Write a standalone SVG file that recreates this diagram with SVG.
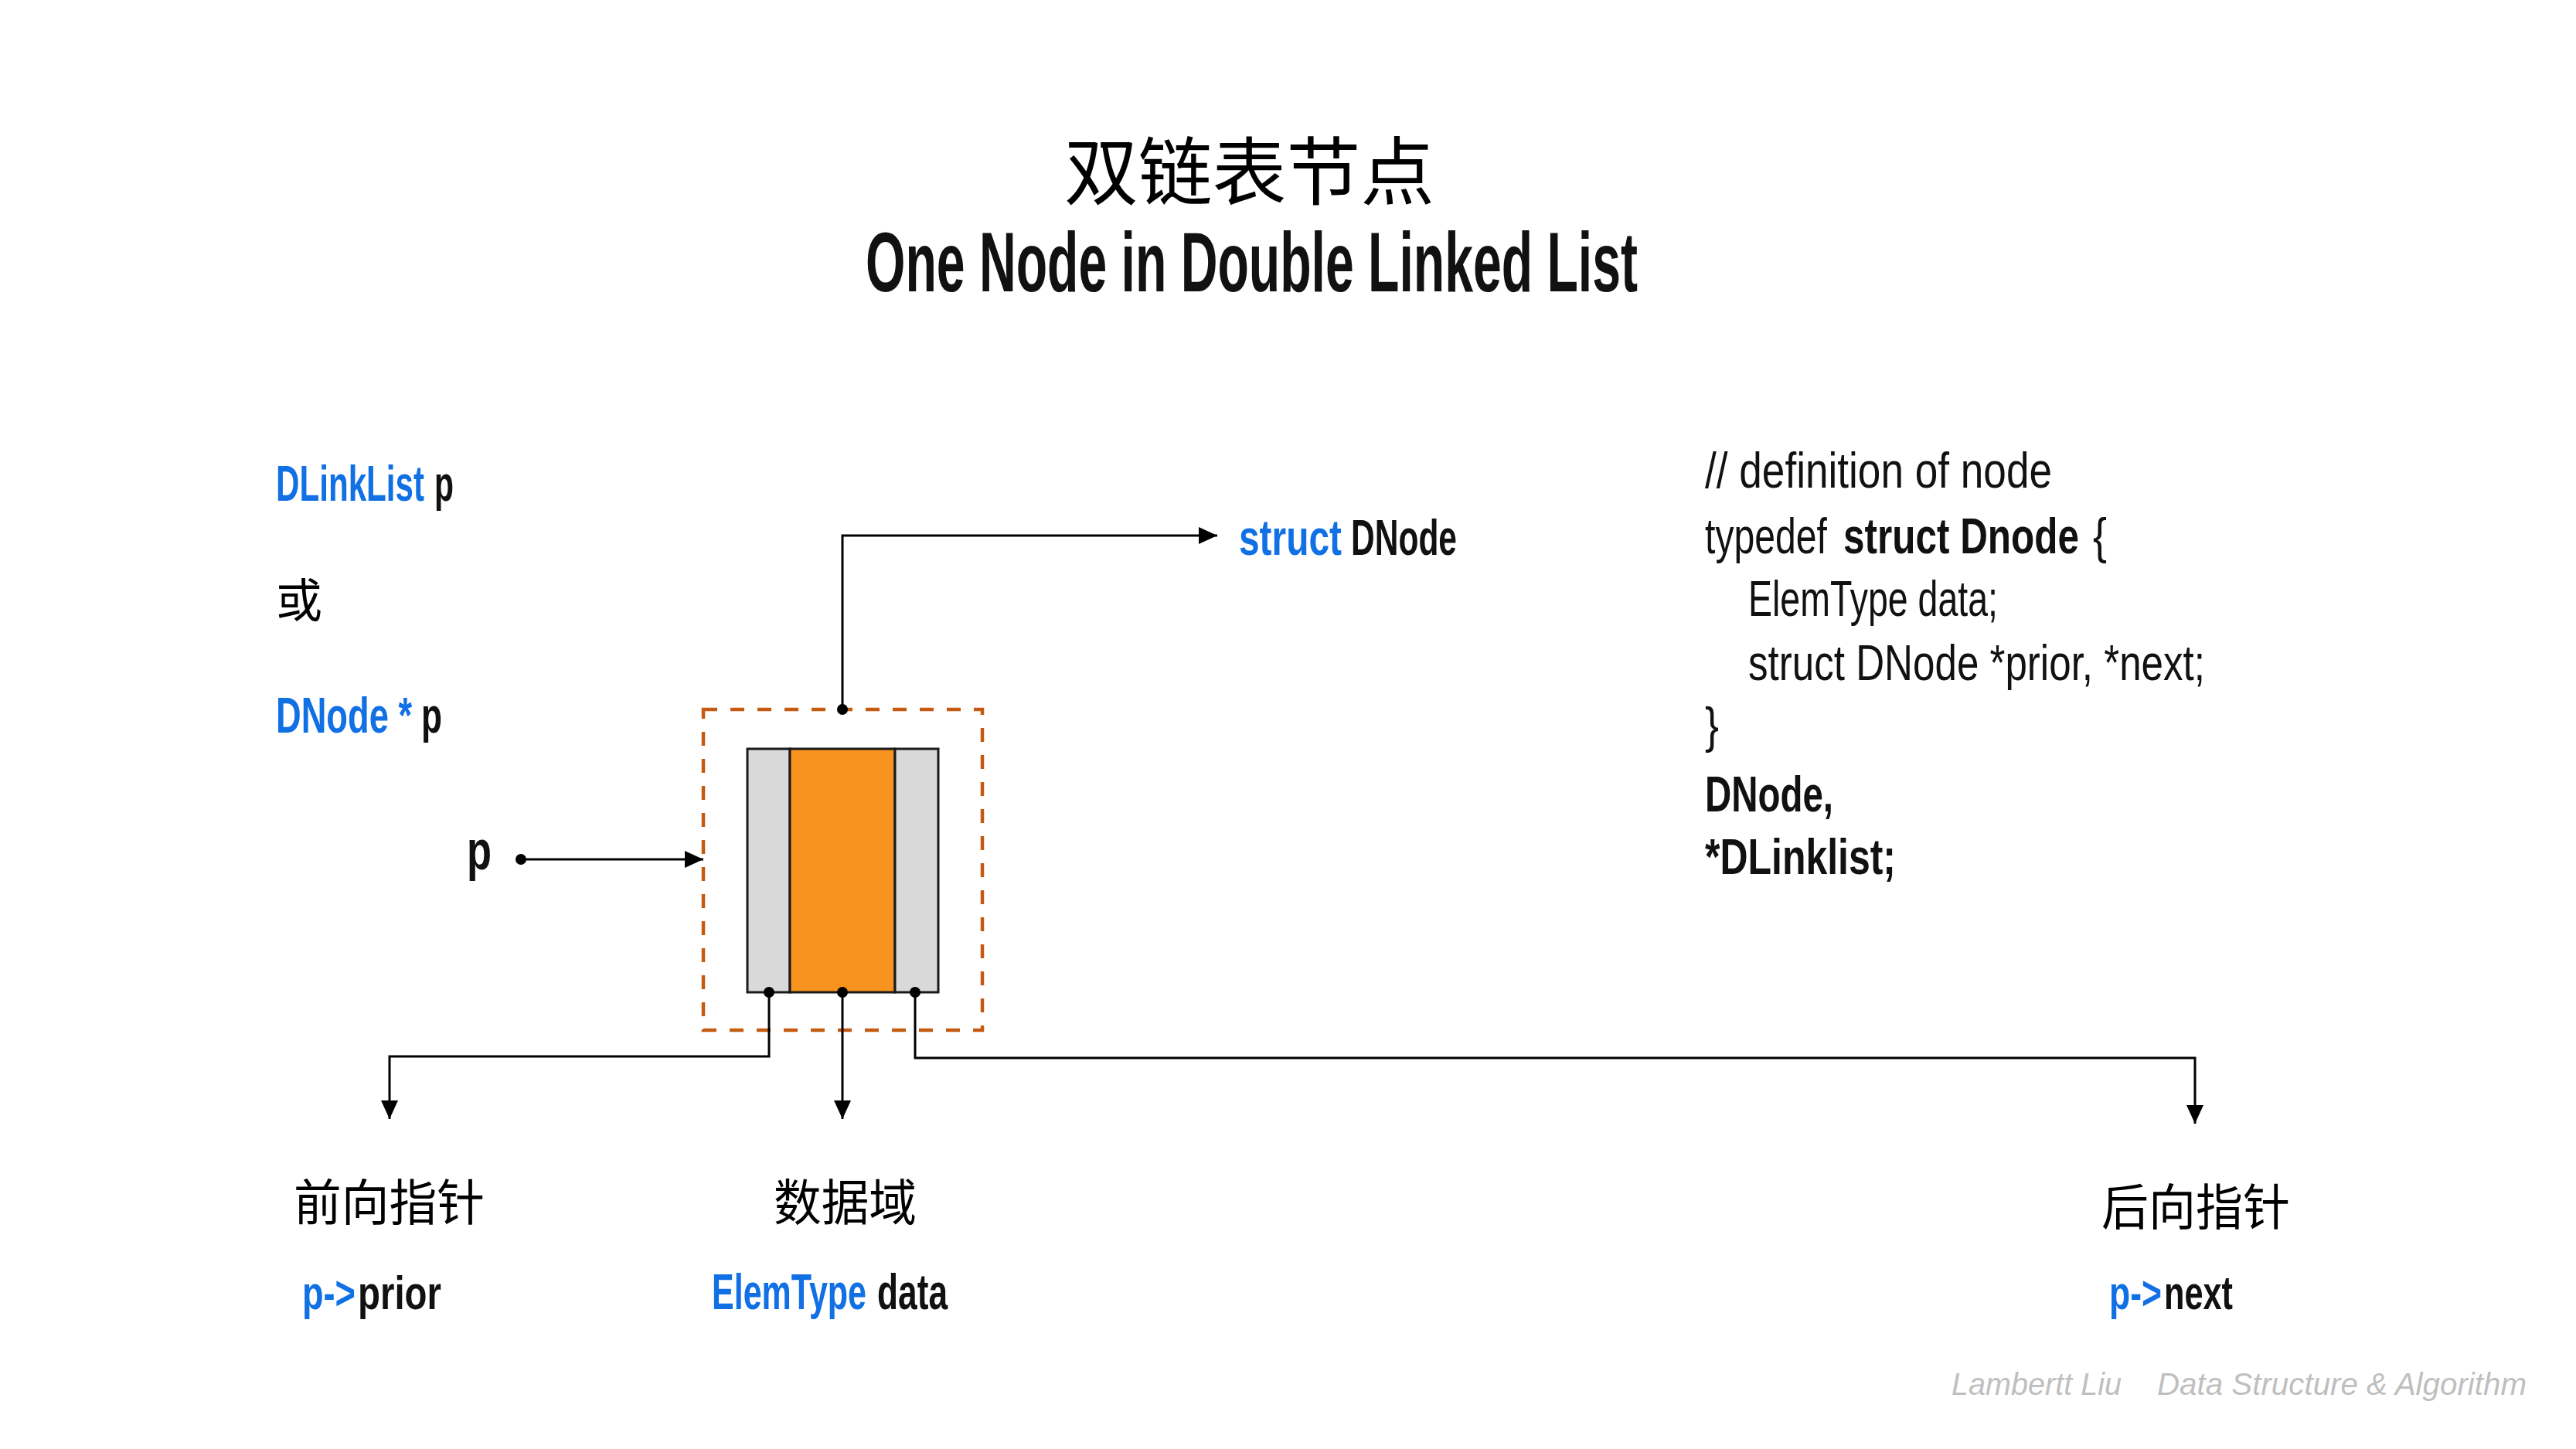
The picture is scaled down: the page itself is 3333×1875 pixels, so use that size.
<svg xmlns="http://www.w3.org/2000/svg" width="3333" height="1875" viewBox="0 0 3333 1875">
<defs>
<style>
.lat{font-family:"Liberation Sans","DejaVu Sans",Arial,sans-serif;}
.cjk{font-family:"Noto Sans CJK SC","Noto Sans CJK TC",sans-serif;fill:#000;}
.b{font-weight:bold;}
.blue{fill:#1170E4;}
.blk{fill:#111;}
.conn{fill:none;stroke:#000;stroke-width:3;}
.dot{fill:#000;}
.wm{font-family:"Liberation Sans","DejaVu Sans",Arial,sans-serif;font-style:italic;fill:#BFBFBF;font-size:40px;}
</style>
<marker id="arr" markerUnits="userSpaceOnUse" markerWidth="24" markerHeight="22" refX="24" refY="11" orient="auto">
<path d="M0,0 L24,11 L0,22 z" fill="#000"/>
</marker>
</defs>
<rect x="0" y="0" width="3333" height="1875" fill="#fff"/>

<g id="title">
<text class="cjk" x="1377" y="257" font-size="96" textLength="479" lengthAdjust="spacingAndGlyphs">双链表节点</text>
<text class="lat b blk" transform="translate(1120,377) scale(1,1.43)" font-size="77" textLength="999" lengthAdjust="spacingAndGlyphs">One Node in Double Linked List</text>
</g>

<g id="pointer-types">
<text class="lat b blue" transform="translate(357,648) scale(1,1.4545)" font-size="44" textLength="192" lengthAdjust="spacingAndGlyphs">DLinkList</text>
<text class="lat b blk" transform="translate(562,648) scale(1,1.4545)" font-size="44" textLength="25" lengthAdjust="spacingAndGlyphs">p</text>
<text class="cjk" x="357" y="799" font-size="60">或</text>
<text class="lat b blue" transform="translate(357,948) scale(1,1.4545)" font-size="44" textLength="176" lengthAdjust="spacingAndGlyphs">DNode *</text>
<text class="lat b blk" transform="translate(545,948) scale(1,1.4545)" font-size="44" textLength="27" lengthAdjust="spacingAndGlyphs">p</text>
</g>

<g id="struct-label">
<text class="lat b blue" transform="translate(1603,718) scale(1,1.4545)" font-size="44" textLength="133" lengthAdjust="spacingAndGlyphs">struct</text>
<text class="lat b blk" transform="translate(1748,718) scale(1,1.4545)" font-size="44" textLength="137" lengthAdjust="spacingAndGlyphs">DNode</text>
</g>

<g id="p-label">
<text class="lat b blk" transform="translate(604,1125) scale(1,1.44)" font-size="50" textLength="32" lengthAdjust="spacingAndGlyphs">p</text>
</g>

<g id="node">
<rect x="910" y="918" width="361" height="415" fill="none" stroke="#C55A11" stroke-width="4.5" stroke-dasharray="18 17"/>
<rect x="967" y="969" width="55" height="315" fill="#D9D9D9" stroke="#1a1a1a" stroke-width="3"/>
<rect x="1022" y="969" width="136" height="315" fill="#F7931E" stroke="#1a1a1a" stroke-width="3"/>
<rect x="1158" y="969" width="56" height="315" fill="#D9D9D9" stroke="#1a1a1a" stroke-width="3"/>
</g>

<g id="code">
<text class="lat blk" transform="translate(2206,631) scale(1,1.4545)" font-size="44" textLength="449" lengthAdjust="spacingAndGlyphs">// definition of node</text>
<text class="lat blk" transform="translate(2206,716) scale(1,1.4545)" font-size="44" textLength="158" lengthAdjust="spacingAndGlyphs">typedef</text>
<text class="lat b blk" transform="translate(2385,716) scale(1,1.4545)" font-size="44" textLength="305" lengthAdjust="spacingAndGlyphs">struct Dnode</text>
<text class="lat blk" transform="translate(2708,716) scale(1,1.4545)" font-size="44" textLength="18" lengthAdjust="spacingAndGlyphs">{</text>
<text class="lat blk" transform="translate(2262,797) scale(1,1.4545)" font-size="44" textLength="323" lengthAdjust="spacingAndGlyphs">ElemType data;</text>
<text class="lat blk" transform="translate(2262,880) scale(1,1.4545)" font-size="44" textLength="591" lengthAdjust="spacingAndGlyphs">struct DNode *prior, *next;</text>
<text class="lat blk" transform="translate(2206,961) scale(1,1.4545)" font-size="44" textLength="18" lengthAdjust="spacingAndGlyphs">}</text>
<text class="lat b blk" transform="translate(2206,1050) scale(1,1.4545)" font-size="44" textLength="166" lengthAdjust="spacingAndGlyphs">DNode,</text>
<text class="lat b blk" transform="translate(2206,1131) scale(1,1.4545)" font-size="44" textLength="247" lengthAdjust="spacingAndGlyphs">*DLinklist;</text>
</g>

<g id="prior-label">
<text class="cjk" x="380" y="1579" font-size="64" textLength="247" lengthAdjust="spacingAndGlyphs">前向指针</text>
<text class="lat b blue" transform="translate(391,1694) scale(1,1.409)" font-size="44" textLength="69" lengthAdjust="spacingAndGlyphs">p-&gt;</text>
<text class="lat b blk" transform="translate(463,1694) scale(1,1.409)" font-size="44" textLength="108" lengthAdjust="spacingAndGlyphs">prior</text>
</g>

<g id="data-label">
<text class="cjk" x="1001" y="1579" font-size="64" textLength="185" lengthAdjust="spacingAndGlyphs">数据域</text>
<text class="lat b blue" transform="translate(921,1694) scale(1,1.4545)" font-size="44" textLength="200" lengthAdjust="spacingAndGlyphs">ElemType</text>
<text class="lat b blk" transform="translate(1135,1694) scale(1,1.4545)" font-size="44" textLength="91" lengthAdjust="spacingAndGlyphs">data</text>
</g>

<g id="next-label">
<text class="cjk" x="2719" y="1585" font-size="64" textLength="244" lengthAdjust="spacingAndGlyphs">后向指针</text>
<text class="lat b blue" transform="translate(2729,1694) scale(1,1.409)" font-size="44" textLength="68" lengthAdjust="spacingAndGlyphs">p-&gt;</text>
<text class="lat b blk" transform="translate(2800,1694) scale(1,1.409)" font-size="44" textLength="89" lengthAdjust="spacingAndGlyphs">next</text>
</g>

<g id="connectors">
<path class="conn" d="M1090,918 V693 H1575" marker-end="url(#arr)"/>
<path class="conn" d="M674,1112 H910" marker-end="url(#arr)"/>
<path class="conn" d="M995,1284 V1367 H504 V1448" marker-end="url(#arr)"/>
<path class="conn" d="M1090,1284 V1448" marker-end="url(#arr)"/>
<path class="conn" d="M1184,1284 V1369 H2840 V1454" marker-end="url(#arr)"/>
<circle class="dot" cx="1090" cy="918" r="7"/>
<circle class="dot" cx="674" cy="1112" r="7"/>
<circle class="dot" cx="995" cy="1284" r="7"/>
<circle class="dot" cx="1090" cy="1284" r="7"/>
<circle class="dot" cx="1184" cy="1284" r="7"/>
</g>

<g id="watermark">
<text class="wm" x="2525" y="1805" textLength="220" lengthAdjust="spacingAndGlyphs">Lambertt Liu</text>
<text class="wm" x="2791" y="1805" textLength="478" lengthAdjust="spacingAndGlyphs">Data Structure &amp; Algorithm</text>
</g>
</svg>
